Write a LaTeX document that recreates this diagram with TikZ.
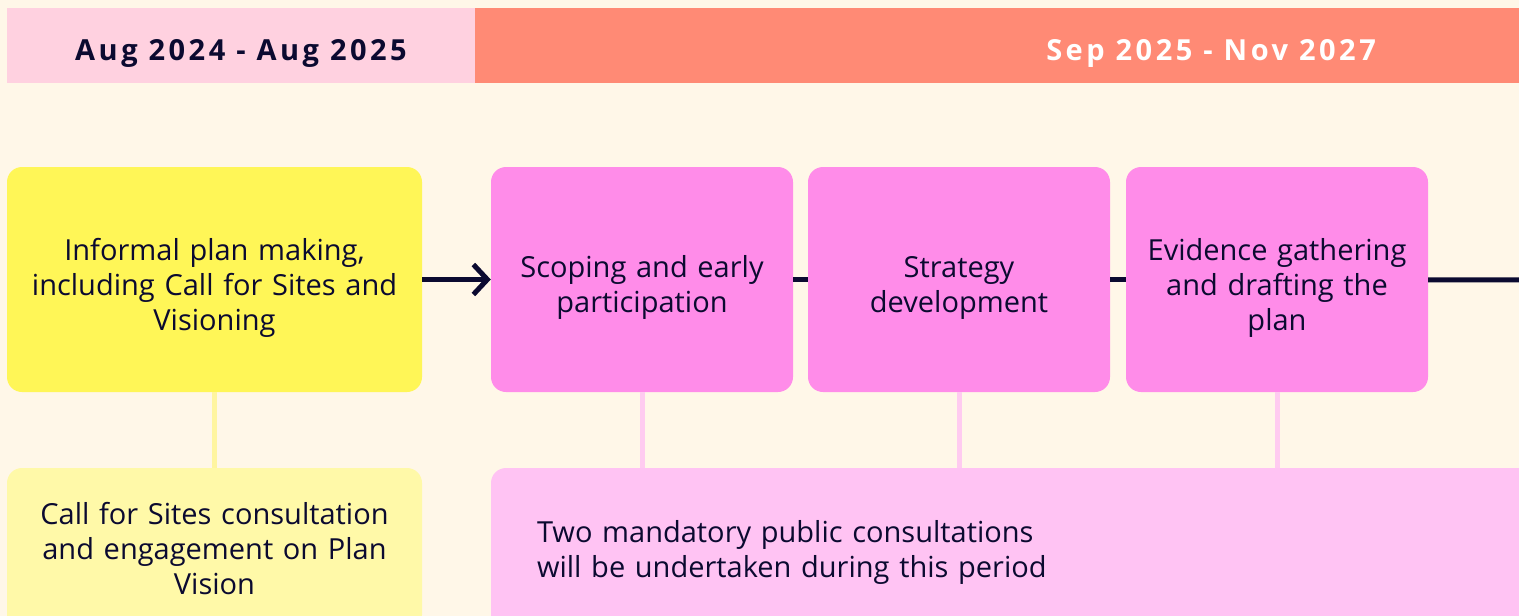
\documentclass[tikz,border=0pt]{standalone}
\usepackage{fontspec}
\setmainfont{Open Sans}
\usepackage{tikz}
\usetikzlibrary{arrows.meta}

\definecolor{cream}{HTML}{FFF7E8}
\definecolor{navy}{HTML}{0B0A30}
\definecolor{hdrpink}{HTML}{FFD1E0}
\definecolor{hdrsalmon}{HTML}{FF8A75}
\definecolor{stageyellow}{HTML}{FFF657}
\definecolor{noteyellow}{HTML}{FFF9A8}
\definecolor{linkyellow}{HTML}{FFF5A0}
\definecolor{stagepink}{HTML}{FF8CE9}
\definecolor{notepink}{HTML}{FFC3F3}
\definecolor{linkpink}{HTML}{FFCBF0}

\begin{document}
\begin{tikzpicture}[x=1pt,y=-1pt,
    period/.style={inner sep=0pt, minimum height=75pt},
    periodtext/.style={inner sep=0pt, font=\fontsize{29}{34}\selectfont\bfseries\addfontfeatures{LetterSpace=12}},
    stage/.style={rounded corners=15pt, inner sep=0pt, minimum height=225pt, minimum width=302pt},
    stagetext/.style={inner sep=0pt, text width=290pt, align=center, text=navy,
      font=\fontsize{29}{35}\selectfont, yshift=-8pt},
    note/.style={rounded corners=15pt, inner sep=0pt, minimum height=162pt, text=navy,
      font=\fontsize{29}{35}\selectfont},
    flow/.style={draw=navy, line width=5pt},
    link/.style={line width=5pt}]

\useasboundingbox (0,0) rectangle (1519,616);
\clip (0,0) rectangle (1519,616);
\fill[cream] (0,0) rectangle (1519,616);

% period headers
\node[period, fill=hdrpink, minimum width=468pt] (earlyperiod) at (241,45.5) {};
\node[period, fill=hdrsalmon, minimum width=1044pt] (mainperiod) at (997,45.5) {};
\node[periodtext, text=navy] (earlylabel) at (241,53.5) {Aug 2024 - Aug 2025};
\node[periodtext, text=white] (mainlabel) at (1211,53.5) {Sep 2025 - Nov 2027};

% stages
\node[stage, fill=stageyellow, minimum width=415pt] (informal) at (214.5,279.5) {};
\node[stage, fill=stagepink] (scoping) at (642,279.5) {};
\node[stage, fill=stagepink] (strategy) at (959,279.5) {};
\node[stage, fill=stagepink] (evidence) at (1277,279.5) {};
\coordinate (flowend) at (1530,280);

\node[stagetext, text width=405pt] (informaltext) at (informal) {Informal plan making,\\including Call for Sites and\\Visioning};
\node[stagetext] (scopingtext) at (scoping) {Scoping and early\\participation};
\node[stagetext] (strategytext) at (strategy) {Strategy\\development};
\node[stagetext] (evidencetext) at (evidence) {Evidence gathering\\and drafting the\\plan};

% notes
\node[note, fill=noteyellow, minimum width=415pt, text width=405pt, align=center] (callsites) at (214.5,549)
  {Call for Sites consultation\\and engagement on Plan\\Vision};
\node[note, fill=notepink, minimum width=1049pt, minimum height=168pt, inner xsep=46pt, text width=957pt, align=left] (consult) at (1015.5,552)
  {Two mandatory public consultations\\will be undertaken during this period};

% connectors
\draw[flow, -{Straight Barb[length=14pt,width=30pt]}] (informal) -- (scoping);
\draw[flow] (scoping) -- (strategy);
\draw[flow] (strategy) -- (evidence);
\draw[flow] (evidence) -- (flowend);

\draw[link, draw=linkyellow] (informal) -- (callsites);
\draw[link, draw=linkpink] (scoping) -- (scoping |- consult.north);
\draw[link, draw=linkpink] (strategy) -- (strategy |- consult.north);
\draw[link, draw=linkpink] (evidence) -- (evidence |- consult.north);

\end{tikzpicture}
\end{document}
